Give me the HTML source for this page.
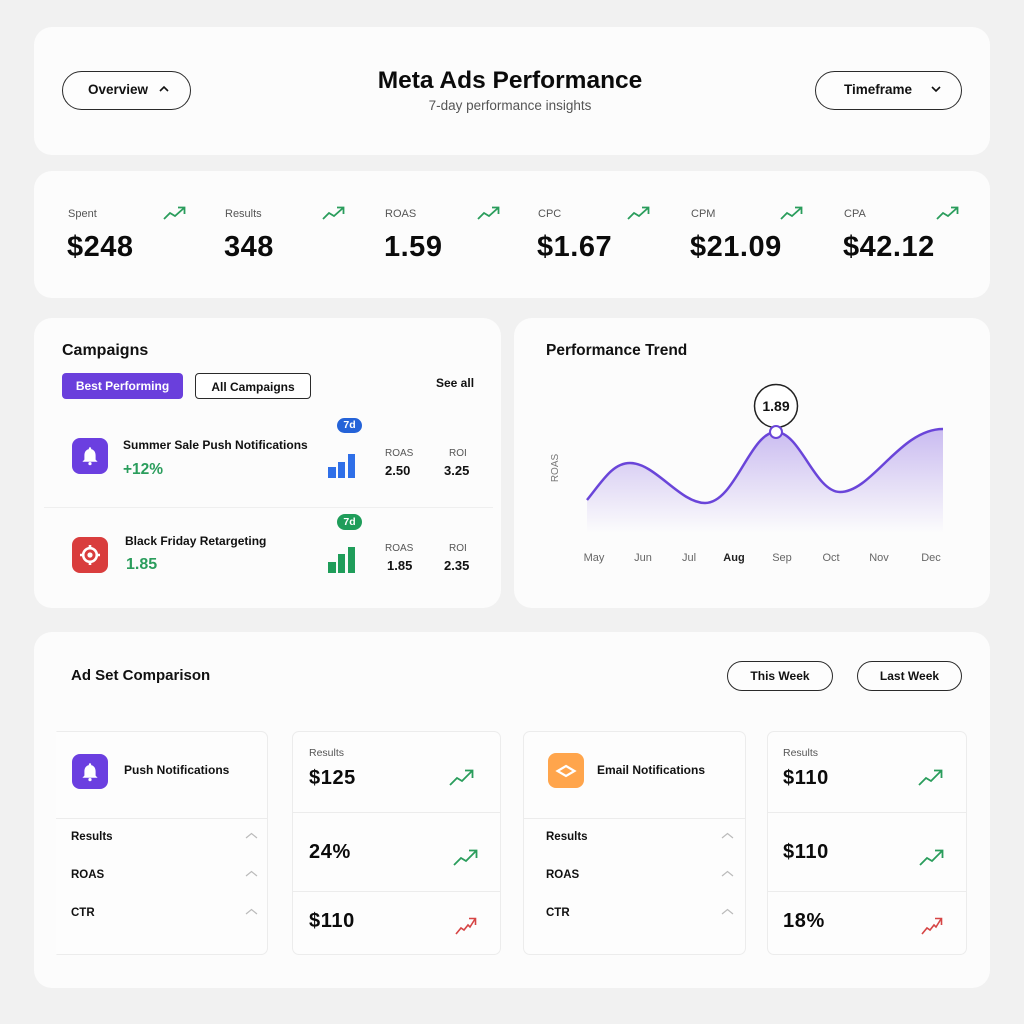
<!DOCTYPE html>
<html><head><meta charset="utf-8">
<style>
*{margin:0;padding:0;box-sizing:border-box}
html,body{width:1024px;height:1024px;background:#f1f1f1;overflow:hidden}
body{font-family:"Liberation Sans",sans-serif;color:#111;position:relative}
.a{position:absolute;white-space:nowrap}
.card{position:absolute;background:#fcfcfc;border-radius:18px}
.pill{position:absolute;border:1.5px solid #2a2a2a;border-radius:22px;background:#fdfdfd}
.b{font-weight:bold}
.lbl{font-size:11px;color:#555;line-height:14px}
.val{font-size:29px;font-weight:bold;letter-spacing:0.5px;line-height:34px;color:#0b0b0b}
.panel{position:absolute;background:#fdfdfd;border:1px solid #ececec;border-radius:7px}
.row{font-size:11.5px;font-weight:bold;line-height:14px;color:#111}
.big{font-size:20px;font-weight:bold;letter-spacing:0.6px;line-height:24px;color:#0b0b0b}
</style></head>
<body>
<!-- cards -->
<div class="card" style="left:34px;top:27px;width:956px;height:128px"></div>
<div class="card" style="left:34px;top:171px;width:956px;height:127px"></div>
<div class="card" style="left:34px;top:318px;width:467px;height:290px"></div>
<div class="card" style="left:514px;top:318px;width:476px;height:290px"></div>
<div class="card" style="left:34px;top:632px;width:956px;height:356px"></div>

<!-- header -->
<div class="pill" style="left:62px;top:71px;width:129px;height:39px"></div>
<div class="a b" style="left:88px;top:82px;font-size:13.5px;line-height:16px">Overview</div>
<svg class="a" style="left:158px;top:84px" width="12" height="10"><polyline points="2,7 6,3 10,7" fill="none" stroke="#111" stroke-width="1.6"/></svg>
<div class="a b" style="left:260px;width:500px;top:66px;text-align:center;font-size:24.5px;line-height:30px;color:#0b0b0b">Meta Ads Performance</div>
<div class="a" style="left:260px;width:500px;top:98px;text-align:center;font-size:13.5px;line-height:16px;color:#555">7-day performance insights</div>
<div class="pill" style="left:815px;top:71px;width:147px;height:39px"></div>
<div class="a b" style="left:844px;top:82px;font-size:13.5px;line-height:16px">Timeframe</div>
<svg class="a" style="left:930px;top:84px" width="12" height="10"><polyline points="2,3 6,7 10,3" fill="none" stroke="#111" stroke-width="1.6"/></svg>

<!-- metrics -->
<div class="a lbl" style="left:68px;top:207px">Spent</div>
<div class="a val" style="left:67px;top:230px">$248</div>
<div class="a lbl" style="left:225px;top:207px">Results</div>
<div class="a val" style="left:224px;top:230px">348</div>
<div class="a lbl" style="left:385px;top:207px">ROAS</div>
<div class="a val" style="left:384px;top:230px">1.59</div>
<div class="a lbl" style="left:538px;top:207px">CPC</div>
<div class="a val" style="left:537px;top:230px">$1.67</div>
<div class="a lbl" style="left:691px;top:207px">CPM</div>
<div class="a val" style="left:690px;top:230px">$21.09</div>
<div class="a lbl" style="left:844px;top:207px">CPA</div>
<div class="a val" style="left:843px;top:230px">$42.12</div>
<svg class="a" style="left:163px;top:205px" width="24" height="16"><polyline points="1,14 7,8 12,11 21,3" fill="none" stroke="#2a9d5c" stroke-width="1.8"/><polyline points="15,2.5 21.5,2.5 21.5,9" fill="none" stroke="#2a9d5c" stroke-width="1.8"/></svg>
<svg class="a" style="left:322px;top:205px" width="24" height="16"><polyline points="1,14 7,8 12,11 21,3" fill="none" stroke="#2a9d5c" stroke-width="1.8"/><polyline points="15,2.5 21.5,2.5 21.5,9" fill="none" stroke="#2a9d5c" stroke-width="1.8"/></svg>
<svg class="a" style="left:477px;top:205px" width="24" height="16"><polyline points="1,14 7,8 12,11 21,3" fill="none" stroke="#2a9d5c" stroke-width="1.8"/><polyline points="15,2.5 21.5,2.5 21.5,9" fill="none" stroke="#2a9d5c" stroke-width="1.8"/></svg>
<svg class="a" style="left:627px;top:205px" width="24" height="16"><polyline points="1,14 7,8 12,11 21,3" fill="none" stroke="#2a9d5c" stroke-width="1.8"/><polyline points="15,2.5 21.5,2.5 21.5,9" fill="none" stroke="#2a9d5c" stroke-width="1.8"/></svg>
<svg class="a" style="left:780px;top:205px" width="24" height="16"><polyline points="1,14 7,8 12,11 21,3" fill="none" stroke="#2a9d5c" stroke-width="1.8"/><polyline points="15,2.5 21.5,2.5 21.5,9" fill="none" stroke="#2a9d5c" stroke-width="1.8"/></svg>
<svg class="a" style="left:936px;top:205px" width="24" height="16"><polyline points="1,14 7,8 12,11 21,3" fill="none" stroke="#2a9d5c" stroke-width="1.8"/><polyline points="15,2.5 21.5,2.5 21.5,9" fill="none" stroke="#2a9d5c" stroke-width="1.8"/></svg>

<!-- campaigns -->
<div class="a b" style="left:62px;top:341px;font-size:16px;line-height:20px">Campaigns</div>
<div class="a" style="left:62px;top:373px;width:121px;height:26px;background:#6a3fdc;border-radius:4px"></div>
<div class="a b" style="left:62px;width:121px;top:379px;text-align:center;color:#fff;font-size:12px;line-height:14px">Best Performing</div>
<div class="a" style="left:195px;top:373px;width:116px;height:26px;border:1.5px solid #2a2a2a;border-radius:4px;background:#fff"></div>
<div class="a b" style="left:195px;width:116px;top:380px;text-align:center;font-size:12px;line-height:14px">All Campaigns</div>
<div class="a b" style="left:436px;top:376px;font-size:12px;line-height:14px">See all</div>

<div class="a" style="left:72px;top:438px;width:36px;height:36px;background:#6b3fe0;border-radius:8px"></div>
<svg class="a" style="left:72px;top:438px" width="36" height="36"><path d="M18 11c-3.6 0-5.6 2.8-5.6 6.4v4.2l-2 2.2h15.2l-2-2.2v-4.2c0-3.6-2-6.4-5.6-6.4z" fill="#fff"/><circle cx="18" cy="10.5" r="1.2" fill="#fff"/><circle cx="18" cy="25.6" r="1.6" fill="#fff"/></svg>
<div class="a b" style="left:123px;top:438px;font-size:12px;line-height:14px">Summer Sale Push Notifications</div>
<div class="a b" style="left:123px;top:461px;font-size:15.5px;line-height:18px;color:#2a9d5c">+12%</div>
<div class="a b" style="left:337px;top:418px;width:25px;height:15px;background:#2563d8;border-radius:8px;color:#fff;font-size:10.5px;line-height:15px;text-align:center">7d</div>
<div class="a" style="left:328px;top:467px;width:8px;height:11px;background:#2f6fe8"></div>
<div class="a" style="left:338px;top:462px;width:7px;height:16px;background:#2f6fe8"></div>
<div class="a" style="left:348px;top:454px;width:7px;height:24px;background:#2f6fe8"></div>
<div class="a" style="left:385px;top:448px;font-size:10px;line-height:12px;color:#555">ROAS</div>
<div class="a b" style="left:385px;top:463px;font-size:13px;line-height:15px">2.50</div>
<div class="a" style="left:449px;top:448px;font-size:10px;line-height:12px;color:#555">ROI</div>
<div class="a b" style="left:444px;top:463px;font-size:13px;line-height:15px">3.25</div>

<div class="a" style="left:44px;top:507px;width:449px;height:1px;background:#efefef"></div>

<div class="a" style="left:72px;top:537px;width:36px;height:36px;background:#d93d3d;border-radius:8px"></div>
<svg class="a" style="left:72px;top:537px" width="36" height="36"><circle cx="18" cy="18" r="6.8" fill="none" stroke="#fff" stroke-width="2.6"/><circle cx="18" cy="18" r="2.6" fill="#fff"/><path d="M18 8v3M18 25v3M8 18h3M25 18h3" stroke="#fff" stroke-width="2.6"/></svg>
<div class="a b" style="left:125px;top:534px;font-size:12px;line-height:14px">Black Friday Retargeting</div>
<div class="a b" style="left:126px;top:556px;font-size:16px;line-height:18px;color:#2a9d5c">1.85</div>
<div class="a b" style="left:337px;top:514px;width:25px;height:16px;background:#1f9d5a;border-radius:8px;color:#fff;font-size:10.5px;line-height:16px;text-align:center">7d</div>
<div class="a" style="left:328px;top:562px;width:8px;height:11px;background:#1f9d5a"></div>
<div class="a" style="left:338px;top:554px;width:7px;height:19px;background:#1f9d5a"></div>
<div class="a" style="left:348px;top:547px;width:7px;height:26px;background:#1f9d5a"></div>
<div class="a" style="left:385px;top:543px;font-size:10px;line-height:12px;color:#555">ROAS</div>
<div class="a b" style="left:387px;top:558px;font-size:13px;line-height:15px">1.85</div>
<div class="a" style="left:449px;top:543px;font-size:10px;line-height:12px;color:#555">ROI</div>
<div class="a b" style="left:444px;top:558px;font-size:13px;line-height:15px">2.35</div>

<!-- performance trend -->
<div class="a b" style="left:546px;top:341px;font-size:15.5px;line-height:20px">Performance Trend</div>
<svg class="a" style="left:0;top:0" width="1024" height="1024">
<defs><linearGradient id="g" x1="0" y1="0" x2="0" y2="1"><stop offset="0" stop-color="#8462e0" stop-opacity="0.42"/><stop offset="1" stop-color="#8462e0" stop-opacity="0"/></linearGradient></defs>
<path d="M587,500 C603,480 613,463 630,463 C655,463 680,503 705,503 C735,503 750,432 776,432 C800,432 815,492 840,492 C872,492 900,429 943,429 L943,533 L587,533 Z" fill="url(#g)"/>
<path d="M587,500 C603,480 613,463 630,463 C655,463 680,503 705,503 C735,503 750,432 776,432 C800,432 815,492 840,492 C872,492 900,429 943,429" fill="none" stroke="#6a45d9" stroke-width="2.5"/>
<circle cx="776" cy="406" r="21.5" fill="#fff" stroke="#222" stroke-width="1.5"/>
<text x="776" y="411" text-anchor="middle" font-family="Liberation Sans" font-weight="bold" font-size="14" fill="#111">1.89</text>
<circle cx="776" cy="432" r="6" fill="#fff" stroke="#6a45d9" stroke-width="2"/>
<text transform="translate(558,468) rotate(-90)" text-anchor="middle" font-family="Liberation Sans" font-size="10" fill="#777">ROAS</text>
<g font-family="Liberation Sans" font-size="11" fill="#666" text-anchor="middle">
<text x="594" y="561">May</text><text x="643" y="561">Jun</text><text x="689" y="561">Jul</text>
<text x="734" y="561" font-weight="bold" fill="#222">Aug</text><text x="782" y="561">Sep</text>
<text x="831" y="561">Oct</text><text x="879" y="561">Nov</text><text x="931" y="561">Dec</text>
</g>
</svg>

<!-- ad set comparison -->
<div class="a b" style="left:71px;top:667px;font-size:15px;line-height:18px">Ad Set Comparison</div>
<div class="pill" style="left:727px;top:661px;width:106px;height:30px;border-radius:16px"></div>
<div class="a b" style="left:727px;width:106px;top:669px;text-align:center;font-size:12px;line-height:14px">This Week</div>
<div class="pill" style="left:857px;top:661px;width:105px;height:30px;border-radius:16px"></div>
<div class="a b" style="left:857px;width:105px;top:669px;text-align:center;font-size:12px;line-height:14px">Last Week</div>

<div class="panel" style="left:56px;top:731px;width:212px;height:224px;border-left-color:transparent;border-radius:0 7px 7px 0"></div>
<div class="a" style="left:56px;top:818px;width:212px;height:1px;background:#ececec"></div>
<div class="a" style="left:72px;top:754px;width:36px;height:35px;background:#6b3fe0;border-radius:8px"></div>
<svg class="a" style="left:72px;top:754px" width="36" height="36"><path d="M18 11c-3.6 0-5.6 2.8-5.6 6.4v4.2l-2 2.2h15.2l-2-2.2v-4.2c0-3.6-2-6.4-5.6-6.4z" fill="#fff"/><circle cx="18" cy="10.5" r="1.2" fill="#fff"/><circle cx="18" cy="25.6" r="1.6" fill="#fff"/></svg>
<div class="a b" style="left:124px;top:763px;font-size:12px;line-height:14px">Push Notifications</div>
<div class="a row" style="left:71px;top:830px">Results</div>
<div class="a row" style="left:71px;top:868px">ROAS</div>
<div class="a row" style="left:71px;top:906px">CTR</div>
<svg class="a" style="left:245px;top:832px" width="14" height="8"><polyline points="1,6 6.5,1.5 12,6" fill="none" stroke="#bbb" stroke-width="1.2"/></svg>
<svg class="a" style="left:245px;top:870px" width="14" height="8"><polyline points="1,6 6.5,1.5 12,6" fill="none" stroke="#bbb" stroke-width="1.2"/></svg>
<svg class="a" style="left:245px;top:908px" width="14" height="8"><polyline points="1,6 6.5,1.5 12,6" fill="none" stroke="#bbb" stroke-width="1.2"/></svg>

<div class="panel" style="left:292px;top:731px;width:209px;height:224px"></div>
<div class="a" style="left:293px;top:812px;width:207px;height:1px;background:#ececec"></div>
<div class="a" style="left:293px;top:891px;width:207px;height:1px;background:#ececec"></div>
<div class="a" style="left:309px;top:747px;font-size:10.5px;line-height:13px;color:#555">Results</div>
<div class="a big" style="left:309px;top:766px">$125</div>
<div class="a big" style="left:309px;top:840px">24%</div>
<div class="a big" style="left:309px;top:909px">$110</div>
<svg class="a" style="left:449px;top:768px" width="26" height="19"><polyline points="1,17 8,10 13,13 23,3" fill="none" stroke="#2a9d5c" stroke-width="1.8"/><polyline points="16,2.5 23.5,2.5 23.5,10" fill="none" stroke="#2a9d5c" stroke-width="1.8"/></svg>
<svg class="a" style="left:453px;top:848px" width="26" height="19"><polyline points="1,17 8,10 13,13 23,3" fill="none" stroke="#2a9d5c" stroke-width="1.8"/><polyline points="16,2.5 23.5,2.5 23.5,10" fill="none" stroke="#2a9d5c" stroke-width="1.8"/></svg>
<svg class="a" style="left:455px;top:916px" width="22" height="20"><polyline points="1,18 6,12 9,14 13,9 15,11 20,3" fill="none" stroke="#d64545" stroke-width="1.6"/><polyline points="14,2.5 20.5,2.5 20.5,9" fill="none" stroke="#d64545" stroke-width="1.6"/></svg>

<div class="panel" style="left:523px;top:731px;width:223px;height:224px"></div>
<div class="a" style="left:524px;top:818px;width:221px;height:1px;background:#ececec"></div>
<div class="a" style="left:548px;top:753px;width:36px;height:35px;background:#ffa54c;border-radius:8px"></div>
<svg class="a" style="left:548px;top:753px" width="36" height="36"><polygon points="18,13 26.5,18 18,23 9.5,18" fill="none" stroke="#fff" stroke-width="2.2"/></svg>
<div class="a b" style="left:597px;top:763px;font-size:12px;line-height:14px">Email Notifications</div>
<div class="a row" style="left:546px;top:830px">Results</div>
<div class="a row" style="left:546px;top:868px">ROAS</div>
<div class="a row" style="left:546px;top:906px">CTR</div>
<svg class="a" style="left:721px;top:832px" width="14" height="8"><polyline points="1,6 6.5,1.5 12,6" fill="none" stroke="#bbb" stroke-width="1.2"/></svg>
<svg class="a" style="left:721px;top:870px" width="14" height="8"><polyline points="1,6 6.5,1.5 12,6" fill="none" stroke="#bbb" stroke-width="1.2"/></svg>
<svg class="a" style="left:721px;top:908px" width="14" height="8"><polyline points="1,6 6.5,1.5 12,6" fill="none" stroke="#bbb" stroke-width="1.2"/></svg>

<div class="panel" style="left:767px;top:731px;width:200px;height:224px"></div>
<div class="a" style="left:768px;top:812px;width:198px;height:1px;background:#ececec"></div>
<div class="a" style="left:768px;top:891px;width:198px;height:1px;background:#ececec"></div>
<div class="a" style="left:783px;top:747px;font-size:10.5px;line-height:13px;color:#555">Results</div>
<div class="a big" style="left:783px;top:766px">$110</div>
<div class="a big" style="left:783px;top:840px">$110</div>
<div class="a big" style="left:783px;top:909px">18%</div>
<svg class="a" style="left:918px;top:768px" width="26" height="19"><polyline points="1,17 8,10 13,13 23,3" fill="none" stroke="#2a9d5c" stroke-width="1.8"/><polyline points="16,2.5 23.5,2.5 23.5,10" fill="none" stroke="#2a9d5c" stroke-width="1.8"/></svg>
<svg class="a" style="left:919px;top:848px" width="26" height="19"><polyline points="1,17 8,10 13,13 23,3" fill="none" stroke="#2a9d5c" stroke-width="1.8"/><polyline points="16,2.5 23.5,2.5 23.5,10" fill="none" stroke="#2a9d5c" stroke-width="1.8"/></svg>
<svg class="a" style="left:921px;top:916px" width="22" height="20"><polyline points="1,18 6,12 9,14 13,9 15,11 20,3" fill="none" stroke="#d64545" stroke-width="1.6"/><polyline points="14,2.5 20.5,2.5 20.5,9" fill="none" stroke="#d64545" stroke-width="1.6"/></svg>
</body></html>
